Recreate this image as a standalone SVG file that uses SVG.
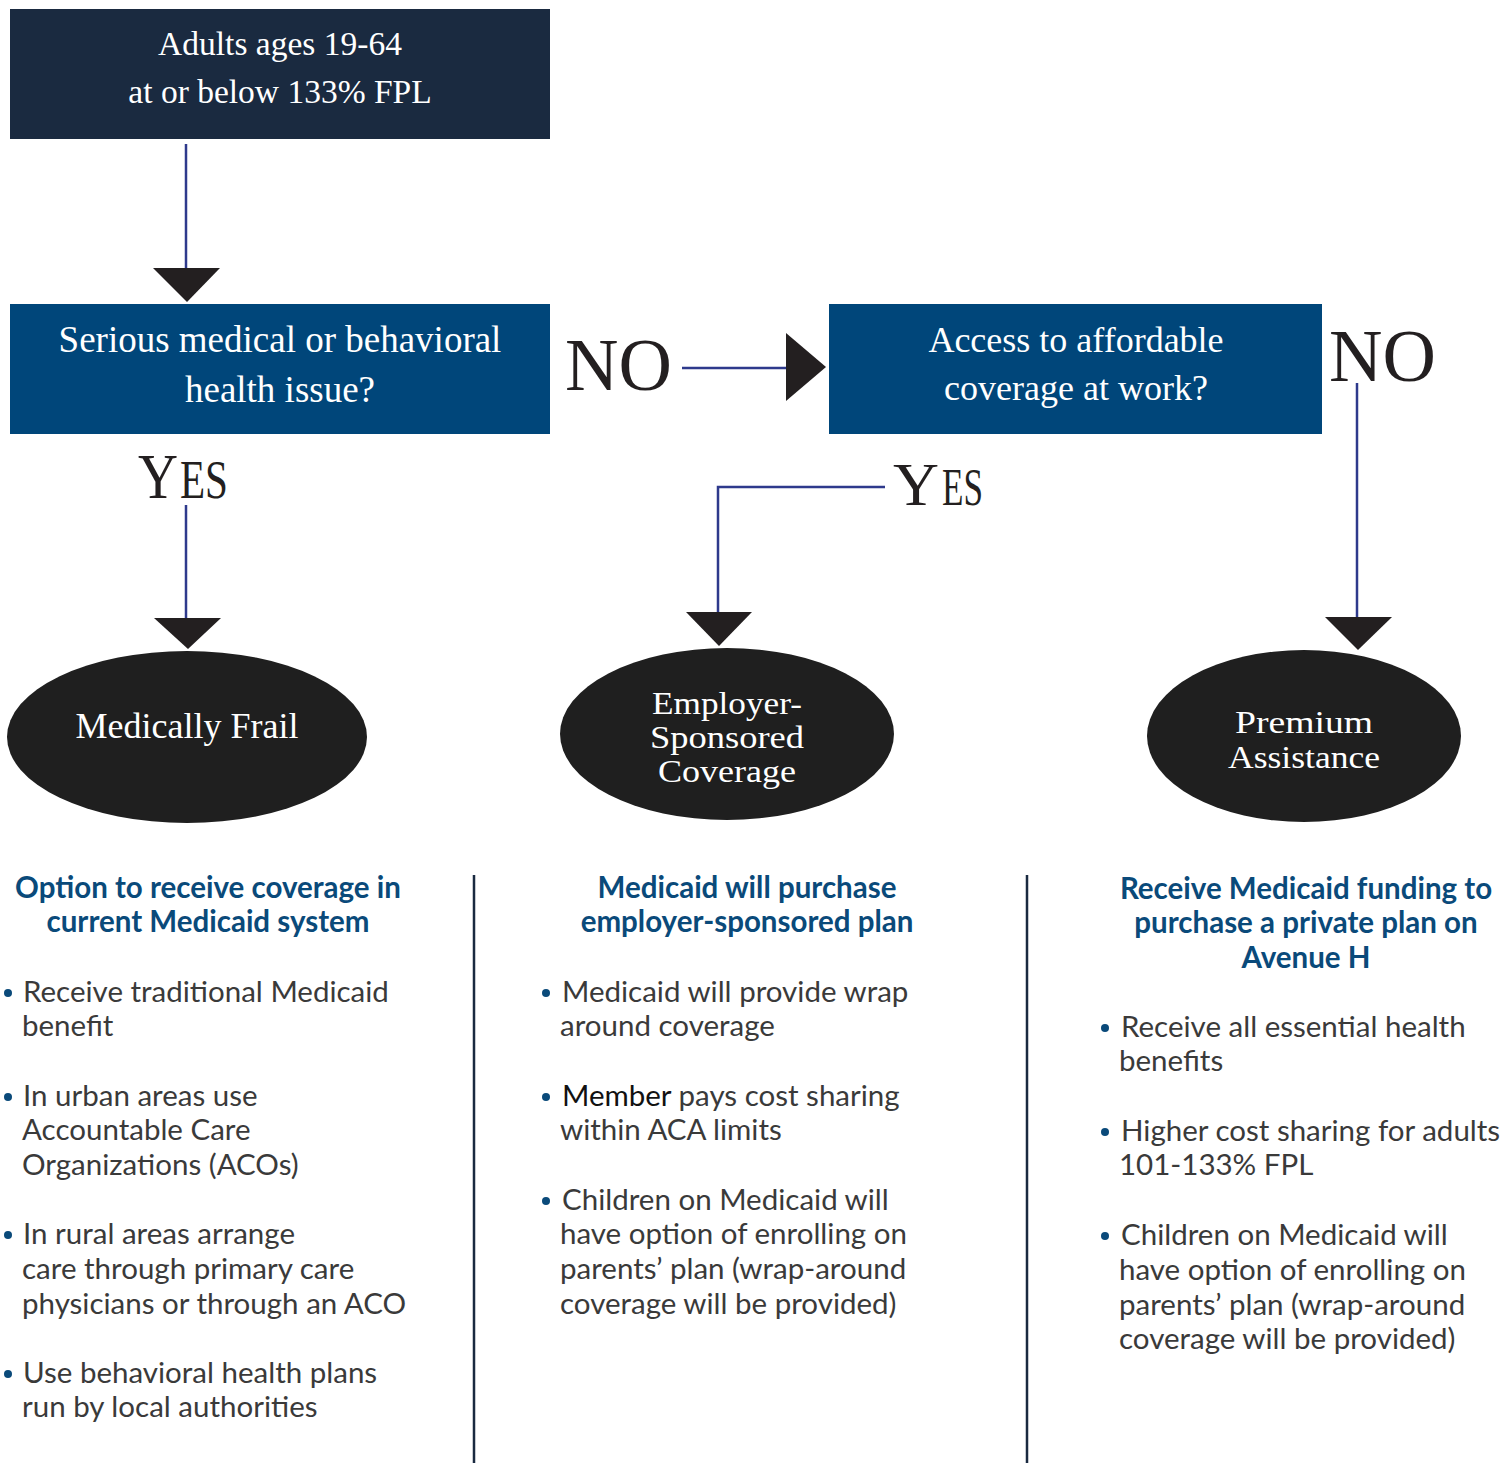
<svg xmlns="http://www.w3.org/2000/svg" width="1502" height="1463" viewBox="0 0 1502 1463">
<defs>
<style>
.boxt{font-family:"Liberation Serif",serif;fill:#fff;text-anchor:middle;}
.lbl{font-family:"Liberation Serif",serif;fill:#231f20;}
.ell{fill:#1f1f1f;}
.ellt{font-family:"Liberation Serif",serif;fill:#fff;font-size:36px;text-anchor:middle;}
.ellt2{font-family:"Liberation Serif",serif;fill:#fff;font-size:30.5px;text-anchor:middle;}
.line{stroke:#2e3a8c;stroke-width:2.5;fill:none;}
.head{fill:#231f20;}
.hd{font-family:Lato,"Liberation Sans",sans-serif;font-weight:bold;fill:#0a4a7a;font-size:29.5px;text-anchor:middle;}
.bd{font-family:Lato,"Liberation Sans",sans-serif;fill:#3a3a3a;font-size:29.5px;}
.dot{fill:#0a4a7a;}
.div{stroke:#1a2a40;stroke-width:2.5;}
</style>
</defs>
<rect width="1502" height="1463" fill="#fff"/>

<g id="connectors">
<line class="line" x1="186" y1="144" x2="186" y2="270"/>
<polygon class="head" points="153,268 220,268 187,302"/>
<line class="line" x1="682" y1="368" x2="790" y2="368"/>
<polygon class="head" points="786,333 786,401 826,367"/>
<line class="line" x1="186" y1="505" x2="186" y2="620"/>
<polygon class="head" points="154,618 221,618 188,649"/>
<polyline class="line" points="885,487 718,487 718,614"/>
<polygon class="head" points="686,612 752,612 719,646"/>
<line class="line" x1="1357" y1="383" x2="1357" y2="619"/>
<polygon class="head" points="1325,617 1392,617 1358,650"/>
<text class="lbl" x="565" y="390" font-size="74">NO</text>
<text class="lbl" x="1329" y="381" font-size="74">NO</text>
<text class="lbl" x="138" y="498" font-size="63" textLength="40" lengthAdjust="spacingAndGlyphs">Y</text>
<text class="lbl" x="180" y="498" font-size="54" textLength="48" lengthAdjust="spacingAndGlyphs">ES</text>
<text class="lbl" x="893" y="505" font-size="62" textLength="46" lengthAdjust="spacingAndGlyphs">Y</text>
<text class="lbl" x="942" y="505" font-size="52" textLength="41" lengthAdjust="spacingAndGlyphs">ES</text>
</g>

<g id="start">
<rect x="10" y="9" width="540" height="130" fill="#1a2a40"/>
<text class="boxt" x="280" y="55" font-size="33.5">Adults ages 19-64</text>
<text class="boxt" x="280" y="103" font-size="33.5">at or below 133% FPL</text>
</g>

<g id="q1">
<rect x="10" y="304" width="540" height="130" fill="#00467a"/>
<text class="boxt" x="280" y="352" font-size="37">Serious medical or behavioral</text>
<text class="boxt" x="280" y="402" font-size="37">health issue?</text>
</g>

<g id="q2">
<rect x="829" y="304" width="493" height="130" fill="#00467a"/>
<text class="boxt" x="1076" y="352" font-size="36">Access to affordable</text>
<text class="boxt" x="1076" y="400" font-size="36">coverage at work?</text>
</g>

<g id="frail">
<ellipse class="ell" cx="187" cy="737" rx="180" ry="86"/>
<text class="ellt" x="187" y="738">Medically Frail</text>
</g>

<g id="esc">
<ellipse class="ell" cx="727" cy="734" rx="167" ry="86"/>
<text class="ellt2" x="727" y="714" textLength="150" lengthAdjust="spacingAndGlyphs">Employer-</text>
<text class="ellt2" x="727" y="748" textLength="154" lengthAdjust="spacingAndGlyphs">Sponsored</text>
<text class="ellt2" x="727" y="782" textLength="138" lengthAdjust="spacingAndGlyphs">Coverage</text>
</g>

<g id="premium">
<ellipse class="ell" cx="1304" cy="736" rx="157" ry="86"/>
<text class="ellt2" x="1304" y="733" textLength="138" lengthAdjust="spacingAndGlyphs">Premium</text>
<text class="ellt2" x="1304" y="768" textLength="152" lengthAdjust="spacingAndGlyphs">Assistance</text>
</g>

<g id="dividers">
<line class="div" x1="474" y1="875" x2="474" y2="1463"/>
<line class="div" x1="1027" y1="875" x2="1027" y2="1463"/>
</g>

<g id="col1">
<text class="hd" x="208" y="898">Option to receive coverage in</text>
<text class="hd" x="208" y="932">current Medicaid system</text>
<circle class="dot" cx="8" cy="993" r="4"/>
<text class="bd" x="23" y="1002">Receive traditional Medicaid</text>
<text class="bd" x="22" y="1036">benefit</text>
<circle class="dot" cx="8" cy="1097" r="4"/>
<text class="bd" x="23" y="1106">In urban areas use</text>
<text class="bd" x="22" y="1140">Accountable Care</text>
<text class="bd" x="22" y="1175">Organizations (ACOs)</text>
<circle class="dot" cx="8" cy="1235" r="4"/>
<text class="bd" x="23" y="1244">In rural areas arrange</text>
<text class="bd" x="22" y="1279">care through primary care</text>
<text class="bd" x="22" y="1314">physicians or through an ACO</text>
<circle class="dot" cx="8" cy="1374" r="4"/>
<text class="bd" x="23" y="1383">Use behavioral health plans</text>
<text class="bd" x="22" y="1417">run by local authorities</text>
</g>

<g id="col2">
<text class="hd" x="747" y="898">Medicaid will purchase</text>
<text class="hd" x="747" y="932">employer-sponsored plan</text>
<circle class="dot" cx="546" cy="993" r="4"/>
<text class="bd" x="562" y="1002">Medicaid will provide wrap</text>
<text class="bd" x="560" y="1036">around coverage</text>
<circle class="dot" cx="546" cy="1097" r="4"/>
<text class="bd" x="562" y="1106"><tspan fill="#111">Member</tspan> pays cost sharing</text>
<text class="bd" x="560" y="1140">within ACA limits</text>
<circle class="dot" cx="546" cy="1201" r="4"/>
<text class="bd" x="562" y="1210">Children on Medicaid will</text>
<text class="bd" x="560" y="1244">have option of enrolling on</text>
<text class="bd" x="560" y="1279">parents’ plan (wrap-around</text>
<text class="bd" x="560" y="1314">coverage will be provided)</text>
</g>

<g id="col3">
<text class="hd" x="1306" y="899">Receive Medicaid funding to</text>
<text class="hd" x="1306" y="933">purchase a private plan on</text>
<text class="hd" x="1306" y="968">Avenue H</text>
<circle class="dot" cx="1105" cy="1028" r="4"/>
<text class="bd" x="1121" y="1037">Receive all essential health</text>
<text class="bd" x="1119" y="1071">benefits</text>
<circle class="dot" cx="1105" cy="1132" r="4"/>
<text class="bd" x="1121" y="1141">Higher cost sharing for adults</text>
<text class="bd" x="1119" y="1175">101-133% FPL</text>
<circle class="dot" cx="1105" cy="1236" r="4"/>
<text class="bd" x="1121" y="1245">Children on Medicaid will</text>
<text class="bd" x="1119" y="1280">have option of enrolling on</text>
<text class="bd" x="1119" y="1315">parents’ plan (wrap-around</text>
<text class="bd" x="1119" y="1349">coverage will be provided)</text>
</g>
</svg>
